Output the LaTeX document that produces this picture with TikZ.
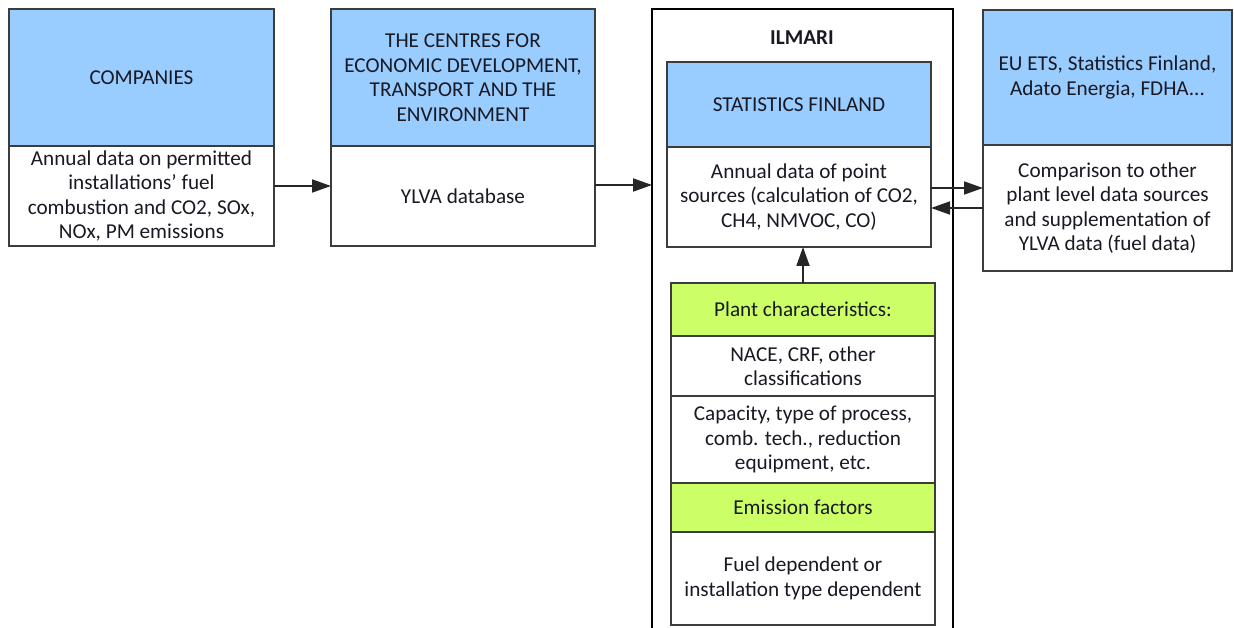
\documentclass[tikz,border=0pt]{standalone}
\usepackage{fontspec}
\setmainfont{Carlito}
\usetikzlibrary{arrows.meta}
\definecolor{hdrblue}{RGB}{153,204,255}
\definecolor{hdrgreen}{RGB}{204,255,102}
\definecolor{edgegray}{RGB}{60,60,60}
\definecolor{txt}{RGB}{25,25,35}
\begin{document}
\begin{tikzpicture}[x=1pt,y=-1pt,
  cell/.style={draw=edgegray,line width=1.5pt,rectangle,anchor=north west,inner sep=0pt,outer sep=0pt,
    align=center,text=txt,font=\fontsize{21.2}{24.5}\selectfont},
  bluehead/.style={cell,fill=hdrblue},
  greenhead/.style={cell,fill=hdrgreen},
  bodycell/.style={cell,fill=white},
  outerbox/.style={draw=black,line width=1.3pt},
  lbl/.style={text=txt,font=\fontsize{21.2}{24.5}\selectfont\bfseries},
  arr/.style={draw=black!85,line width=1.8pt,-{Triangle[length=19pt,width=13pt]}}]
\useasboundingbox (0,0) rectangle (1234,628);
\fill[white] (0,0) rectangle (1234,628);

% Companies
\node[bluehead,minimum width=265pt,minimum height=137pt] (comp-h) at (9,9) {COMPANIES};
\node[bodycell,minimum width=265pt,minimum height=100pt] (comp-b) at (comp-h.south west)
  {Annual data on permitted\\installations’ fuel\\combustion and CO2, SOx,\\NOx, PM emissions};

% Centres
\node[bluehead,minimum width=264pt,minimum height=137pt] (ctr-h) at (331,9)
  {THE CENTRES FOR\\ECONOMIC DEVELOPMENT,\\TRANSPORT AND THE\\ENVIRONMENT};
\node[bodycell,minimum width=264pt,minimum height=100pt] (ctr-b) at (ctr-h.south west) {YLVA database};

% Ilmari outer frame
\draw[outerbox] (652,628) -- (652,9) -- (953,9) -- (953,628);
\coordinate (ilm-l) at (652,185);
\node[lbl] (ilm-t) at (802,38) {ILMARI};

% Statistics Finland
\node[bluehead,minimum width=264pt,minimum height=85pt] (stat-h) at (667,62) {STATISTICS FINLAND};
\node[bodycell,minimum width=264pt,minimum height=100pt] (stat-b) at (stat-h.south west)
  {Annual data of point\\sources (calculation of CO2,\\CH4, NMVOC, CO)};

% Right box
\node[bluehead,minimum width=249pt,minimum height=135pt] (rgt-h) at (983,10)
  {EU ETS, Statistics Finland,\\Adato Energia, FDHA...};
\node[bodycell,minimum width=249pt,minimum height=126pt] (rgt-b) at (rgt-h.south west)
  {Comparison to other\\plant level data sources\\and supplementation of\\YLVA data (fuel data)};

% Plant characteristics stack
\node[greenhead,minimum width=264pt,minimum height=53pt] (plant) at (671,283) {Plant characteristics:};
\node[bodycell,minimum width=264pt,minimum height=60pt] (nace) at (plant.south west)
  {NACE, CRF, other\\classifications};
\node[bodycell,minimum width=264pt,minimum height=87pt] (cap) at (nace.south west)
  {Capacity, type of process,\\comb. tech., reduction\\equipment, etc.};
\node[greenhead,minimum width=264pt,minimum height=49pt] (emis) at (cap.south west) {Emission factors};
\node[bodycell,minimum width=264pt,minimum height=93pt] (fuel) at (emis.south west)
  {Fuel dependent or\\installation type dependent};

% Connectors
\draw[arr] ([yshift=10pt]comp-b.east) -- ([yshift=10pt]ctr-b.west);
\draw[arr] ([yshift=11pt]ctr-b.east) -- (ilm-l);
\draw[arr] ([yshift=9pt]stat-b.east) -- ([yshift=9pt]stat-b.east -| rgt-b.west);
\draw[arr] (rgt-b.west) -- (rgt-b.west -| stat-b.east);
\draw[arr] (plant.north) -- (plant.north |- stat-b.south);
\end{tikzpicture}
\end{document}
